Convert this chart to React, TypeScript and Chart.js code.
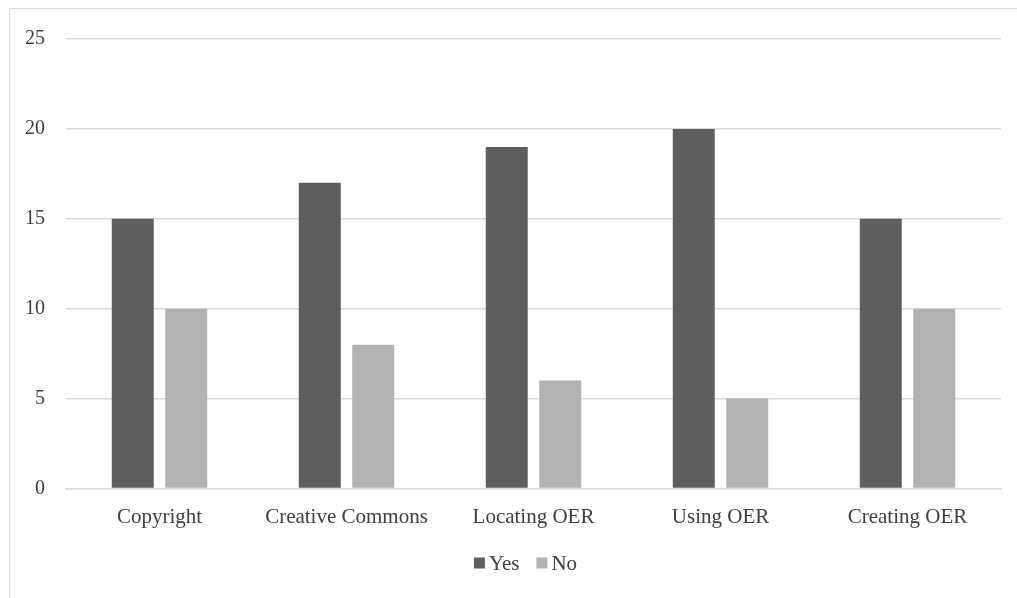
import React, { useEffect, useRef } from "react";
import { Chart, registerables } from "chart.js";

Chart.register(...registerables);

const categories = ["Copyright", "Creative Commons", "Locating OER", "Using OER", "Creating OER"];
const yesValues = [15, 17, 19, 20, 15];
const noValues = [10, 8, 6, 5, 10];
const seriesNames = ["Yes", "No"];

const FONT = "'Liberation Serif', 'Times New Roman', serif";
const TEXT = "#404040";
const GRID = "#d9d9d9";

// Compact legend under the x axis: small square, short gap, series name.
const bottomLegend = {
  id: "bottomLegend",
  afterDraw(chart: any) {
    const ctx = chart.ctx as CanvasRenderingContext2D;
    const box = 11;
    const gap = 4;
    const spacing = 17;
    const y = 563;
    ctx.save();
    ctx.font = `21px ${FONT}`;
    ctx.textBaseline = "middle";
    ctx.textAlign = "left";
    const items = chart.data.datasets.map((ds: any) => ({
      text: String(ds.label),
      color: ds.backgroundColor as string,
      w: ctx.measureText(String(ds.label)).width,
    }));
    const total =
      items.reduce((s: number, it: any) => s + box + gap + it.w, 0) + spacing * (items.length - 1);
    const center = (chart.chartArea.left + chart.chartArea.right) / 2 - 8;
    let x = center - total / 2;
    for (const it of items) {
      ctx.fillStyle = it.color;
      ctx.fillRect(x, y - box / 2, box, box);
      x += box + gap;
      ctx.fillStyle = TEXT;
      ctx.fillText(it.text, x, y + 1);
      x += it.w + spacing;
    }
    ctx.restore();
  },
};

export default function App() {
  const canvasRef = useRef<HTMLCanvasElement | null>(null);

  useEffect(() => {
    if (!canvasRef.current) return;
    const chart = new Chart(canvasRef.current, {
      type: "bar",
      data: {
        labels: categories,
        datasets: [
          {
            label: seriesNames[0],
            data: yesValues,
            backgroundColor: "#5e5e5e",
            borderWidth: 0,
            categoryPercentage: 0.572,
            barPercentage: 0.785,
          },
          {
            label: seriesNames[1],
            data: noValues,
            backgroundColor: "#b2b2b2",
            borderWidth: 0,
            categoryPercentage: 0.572,
            barPercentage: 0.785,
          },
        ],
      },
      options: {
        animation: false,
        responsive: false,
        maintainAspectRatio: false,
        layout: { padding: { top: 39, right: 16, left: 0, bottom: 0 } },
        scales: {
          x: {
            afterFit: (scale: any) => {
              scale.height = 109.5;
            },
            grid: { display: false },
            border: { display: true, color: GRID, width: 1.5 },
            ticks: { color: TEXT, font: { family: FONT, size: 21 }, padding: 8 },
          },
          y: {
            min: 0,
            max: 25,
            afterFit: (scale: any) => {
              scale.width = 66;
            },
            ticks: {
              stepSize: 5,
              color: TEXT,
              padding: 21,
              font: { family: FONT, size: 20 },
            },
            grid: { color: GRID, lineWidth: 1.5, drawTicks: false },
            border: { display: false },
          },
        },
        plugins: {
          tooltip: { enabled: false },
          legend: { display: false },
        },
      },
      plugins: [bottomLegend],
    });
    return () => chart.destroy();
  }, []);

  return (
    <div style={{ position: "fixed", left: 0, top: 0, width: 1017, height: 598, background: "#fff" }}>
      <div
        style={{
          position: "absolute",
          left: 9,
          top: 8,
          width: 1030,
          height: 620,
          border: "1px solid #d9d9d9",
          boxSizing: "border-box",
        }}
      />
      <canvas
        ref={canvasRef}
        width={1017}
        height={598}
        style={{ position: "absolute", left: 0, top: 0, width: 1017, height: 598 }}
      />
    </div>
  );
}
